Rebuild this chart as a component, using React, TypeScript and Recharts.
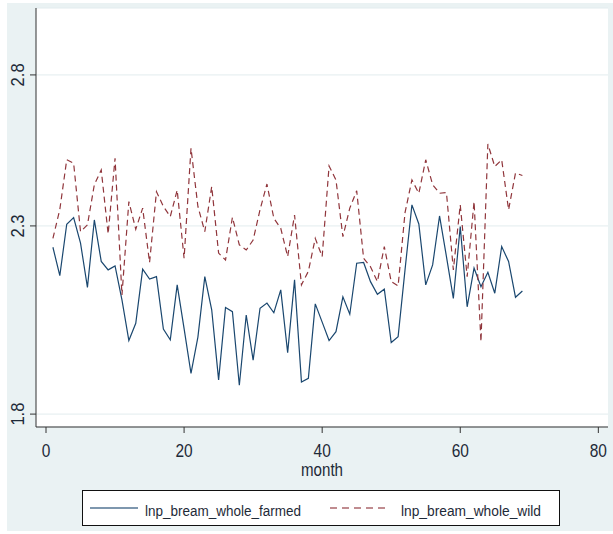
import React from 'react';
import { LineChart, Line, XAxis, YAxis, CartesianGrid, Legend } from 'recharts';

const months = [
  1, 2, 3, 4, 5, 6, 7, 8, 9, 10, 11, 12, 13, 14, 15, 16, 17, 18, 19, 20, 21, 22, 23,
  24, 25, 26, 27, 28, 29, 30, 31, 32, 33, 34, 35, 36, 37, 38, 39, 40, 41, 42, 43, 44, 45, 46,
  47, 48, 49, 50, 51, 52, 53, 54, 55, 56, 57, 58, 59, 60, 61, 62, 63, 64, 65, 66, 67, 68, 69,
];

const farmed = [
  2.237, 2.156, 2.305, 2.325, 2.249, 2.123, 2.318, 2.196, 2.172, 2.183, 2.089, 1.981, 2.026,
  2.174, 2.146, 2.153, 2.011, 1.983, 2.13, 2.012, 1.898, 1.99, 2.153, 2.062, 1.882, 2.068,
  2.057, 1.869, 2.048, 1.931, 2.066, 2.08, 2.054, 2.116, 1.95, 2.144, 1.877, 1.886, 2.078,
  2.029, 1.981, 2.004, 2.097, 2.05, 2.191, 2.193, 2.139, 2.104, 2.118, 1.976, 1.991, 2.172,
  2.364, 2.306, 2.13, 2.186, 2.33, 2.21, 2.093, 2.298, 2.07, 2.177, 2.125, 2.165, 2.107,
  2.239, 2.196, 2.096, 2.113,
];

const wild = [
  2.263, 2.35, 2.507, 2.496, 2.283, 2.303, 2.427, 2.474, 2.276, 2.512, 2.102, 2.374, 2.29,
  2.354, 2.193, 2.405, 2.359, 2.328, 2.41, 2.205, 2.545, 2.359, 2.283, 2.421, 2.22, 2.2,
  2.326, 2.244, 2.229, 2.258, 2.349, 2.429, 2.323, 2.293, 2.21, 2.333, 2.13, 2.168, 2.263,
  2.21, 2.487, 2.442, 2.268, 2.354, 2.408, 2.205, 2.181, 2.139, 2.239, 2.139, 2.127, 2.34,
  2.442, 2.4, 2.507, 2.427, 2.4, 2.402, 2.172, 2.364, 2.153, 2.374, 1.978, 2.559, 2.485,
  2.507, 2.349, 2.464, 2.456,
];

const xTicks = [0, 20, 40, 60, 80];
const yTicks = [1.8, 2.3, 2.8];

const data = months.map((m, i) => ({ month: m, farmed: farmed[i], wild: wild[i] }));

// no narrow font installed, so squeeze Liberation Sans with textLength
const FONT = '"Liberation Sans", Arial, sans-serif';
const NAVY = '#1a476f';
const MAROON = '#90353b';
const BG = '#eaf2f3';
const INK = '#1e2a38';

function YTick(props: any) {
  const { x, y, payload } = props;
  const bx = x - 4;
  return (
    <text
      x={bx}
      y={y}
      textAnchor="middle"
      fontFamily={FONT}
      fontSize={19}
      fill={INK}
      textLength={23}
      lengthAdjust="spacingAndGlyphs"
      transform={`rotate(-90 ${bx} ${y})`}
    >
      {payload.value}
    </text>
  );
}

function XTick(props: any) {
  const { x, y, payload } = props;
  const label = String(payload.value);
  return (
    <text
      x={x}
      y={y + 22}
      textAnchor="middle"
      fontFamily={FONT}
      fontSize={19}
      fill={INK}
      textLength={8.6 * label.length}
      lengthAdjust="spacingAndGlyphs"
    >
      {label}
    </text>
  );
}

function MonthLabel(props: any) {
  const { viewBox } = props;
  const cx = viewBox.x + viewBox.width / 2;
  return (
    <text
      x={cx}
      y={viewBox.y + viewBox.height - 11}
      textAnchor="middle"
      fontFamily={FONT}
      fontSize={19}
      fill={INK}
      textLength={42}
      lengthAdjust="spacingAndGlyphs"
    >
      month
    </text>
  );
}

function LegendBox() {
  return (
    <svg width={478} height={36} style={{ display: 'block' }}>
      <rect x={0.5} y={0.5} width={477} height={35} fill="#fff" stroke="#111" />
      <line x1={8} y1={18} x2={56} y2={18} stroke={NAVY} strokeWidth={1.5} opacity={0.75} />
      <text
        x={63}
        y={25.5}
        fontFamily={FONT}
        fontSize={15.5}
        fill={INK}
        textLength={156}
        lengthAdjust="spacingAndGlyphs"
      >
        lnp_bream_whole_farmed
      </text>
      <line
        x1={248}
        y1={18}
        x2={307}
        y2={18}
        stroke={MAROON}
        strokeWidth={1.5}
        strokeDasharray="7 5"
        opacity={0.75}
      />
      <text
        x={319}
        y={25.5}
        fontFamily={FONT}
        fontSize={15.5}
        fill={INK}
        textLength={140}
        lengthAdjust="spacingAndGlyphs"
      >
        lnp_bream_whole_wild
      </text>
    </svg>
  );
}

export default function App() {
  return (
    <div style={{ position: 'absolute', left: 0, top: 0, width: 613, height: 534, background: '#fff' }}>
      <div style={{ position: 'absolute', left: 7, top: 3, width: 606, height: 528, background: BG }} />
      <div style={{ position: 'absolute', left: 0, top: 0 }}>
        <LineChart width={613} height={534} data={data} margin={{ top: 8, right: 5, left: 0, bottom: 11 }}>
          <CartesianGrid vertical={false} stroke="#e2ecee" fill="#fff" />
          <XAxis
            dataKey="month"
            type="number"
            domain={[-1.45, 81.4]}
            allowDataOverflow
            ticks={xTicks}
            interval={0}
            height={60}
            tickSize={6}
            axisLine={{ stroke: '#333' }}
            tickLine={{ stroke: '#333' }}
            tick={<XTick />}
            label={<MonthLabel />}
          />
          <YAxis
            type="number"
            scale="log"
            domain={[1.77, 3.055]}
            allowDataOverflow
            ticks={yTicks}
            interval={0}
            width={36}
            tickSize={6}
            axisLine={{ stroke: '#333' }}
            tickLine={{ stroke: '#333' }}
            tick={<YTick />}
          />
          <Legend
            verticalAlign="bottom"
            content={<LegendBox />}
            wrapperStyle={{ left: 82, top: 490, width: 478, height: 36 }}
          />
          <Line
            type="linear"
            dataKey="farmed"
            stroke={NAVY}
            strokeWidth={1.2}
            dot={false}
            isAnimationActive={false}
          />
          <Line
            type="linear"
            dataKey="wild"
            stroke={MAROON}
            strokeWidth={1.2}
            strokeDasharray="6 4"
            dot={false}
            isAnimationActive={false}
          />
        </LineChart>
      </div>
    </div>
  );
}
